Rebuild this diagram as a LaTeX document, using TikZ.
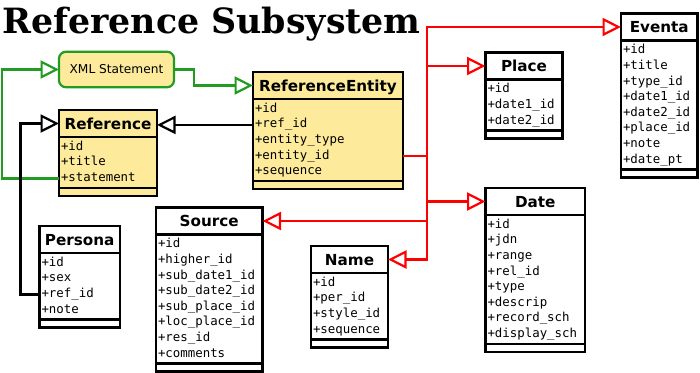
\documentclass[tikz,border=0pt]{standalone}
\usepackage{fontspec}
\setmainfont{DejaVu Serif}
\setsansfont{DejaVu Sans}
\setmonofont{DejaVu Sans Mono}
\usetikzlibrary{arrows.meta,calc}

\definecolor{classyellow}{RGB}{253,234,155}
\definecolor{linkgreen}{RGB}{34,155,34}

% class box: [fill]{name}{top left}{width}{title}{attributes}
\newcommand{\umlclass}[6][white]{%
  \foreach \fld [count=\row] in {#6} {\xdef\nattr{\row}}
  \node[classhead, fill=#1, minimum width=#4, anchor=north west] (#2) at #3 {#5};
  \draw[classline, fill=#1] (#2.south west) rectangle ($(#2.south east)+(0,15.6*\nattr+4)$) coordinate (#2-x);
  \draw[classline, fill=#1] (#2.south west |- #2-x) rectangle ++(#4,8);
  \foreach \fld [count=\row] in {#6}
    \node[attrib] (#2-\row) at ($(#2.south west)+(2,13.3+15.6*\row-15.6)$) {\fld};
}

\begin{document}
\begin{tikzpicture}[x=1pt, y=-1pt,
    classhead/.style={draw, line width=2.4pt, inner sep=0pt, outer sep=0pt,
      minimum height=27pt, text height=11pt, text depth=0pt,
      font=\sffamily\bfseries\fontsize{15.2}{18}\selectfont},
    classline/.style={draw, line width=2.4pt},
    attrib/.style={anchor=base west, inner sep=0pt, outer sep=0pt,
      text height=9pt, text depth=3pt, font=\ttfamily\fontsize{12.4}{14}\selectfont},
    xmlbox/.style={draw=linkgreen, fill=classyellow, line width=2.2pt, rounded corners=7pt,
      minimum width=115pt, minimum height=35.5pt, inner sep=0pt, outer sep=0pt,
      font=\sffamily\fontsize{12.2}{14}\selectfont},
    umlarrow/.style={-{Triangle[open, length=18.5pt, width=18pt]}},
    greenlink/.style={draw=linkgreen, line width=2.2pt},
    blacklink/.style={draw=black, line width=2.2pt},
    redlink/.style={draw=red, line width=2.2pt}]
  \useasboundingbox (0,0) rectangle (700,372);

  \node[anchor=base west, inner sep=0pt, font=\bfseries\fontsize{34.8}{38}\selectfont] (title) at (2,33) {Reference Subsystem};

  % classes
  \umlclass[classyellow]{reentity}{(253,72)}{150}{ReferenceEntity}{+id,+ref\_id,+entity\_type,+entity\_id,+sequence}
  \umlclass[classyellow]{reference}{(59,110)}{98}{Reference}{+id,+title,+statement}
  \umlclass{persona}{(39.5,226)}{80.5}{Persona}{+id,+sex,+ref\_id,+note}
  \umlclass{source}{(156,207.5)}{106.5}{Source}{+id,+higher\_id,+sub\_date1\_id,+sub\_date2\_id,+sub\_place\_id,+loc\_place\_id,+res\_id,+comments}
  \umlclass{name}{(311,246)}{77}{Name}{+id,+per\_id,+style\_id,+sequence}
  \umlclass{date}{(485.5,188)}{99.5}{Date}{+id,+jdn,+range,+rel\_id,+type,+descrip,+record\_sch,+display\_sch}
  \umlclass{place}{(485.5,52.5)}{77}{Place}{+id,+date1\_id,+date2\_id}
  \umlclass{eventa}{(621,13.5)}{76.5}{Eventa}{+id,+title,+type\_id,+date1\_id,+date2\_id,+place\_id,+note,+date\_pt}

  \node[xmlbox] (xml) at (116.5,69.5) {XML Statement};

  % statement links
  \draw[greenlink, umlarrow] (reference-3.west -| reference.west) -- ++(-57,0) |- (xml.west);
  \draw[greenlink, umlarrow] (xml.east) -- ++(20,0) |- (reentity.west);

  % reference links
  \draw[blacklink, umlarrow] (reentity-2.west -| reentity.west) -- (reentity-2.west -| reference.east);
  \draw[blacklink, umlarrow] (persona-3.west -| persona.west) -- ++(-19,0) |- (reference.west);

  % entity links
  \draw[redlink] (reentity-4.west -| reentity.east) -- ++(24,0) coordinate (hub);
  \draw[redlink, umlarrow] (hub) |- (eventa.west);
  \draw[redlink, umlarrow] (hub) |- (place.west);
  \draw[redlink, umlarrow] (hub) |- (date.west);
  \draw[redlink, umlarrow] (hub) |- (source.east);
  \draw[redlink, umlarrow] (hub) |- (name.east);
\end{tikzpicture}
\end{document}
